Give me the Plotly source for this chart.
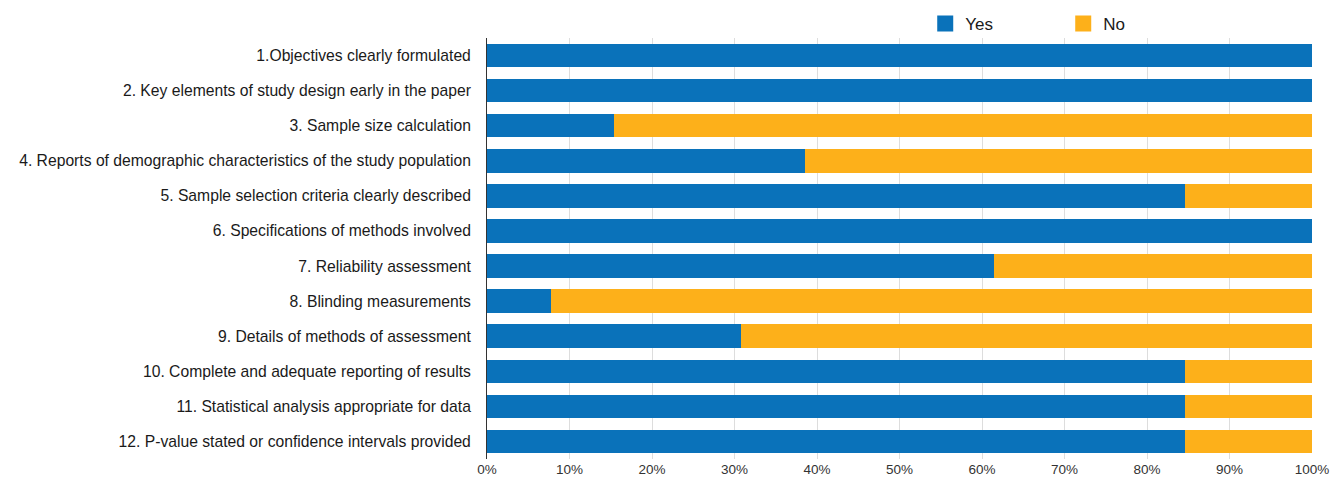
import plotly.graph_objects as go

categories = [
    "1.Objectives clearly formulated",
    "2. Key elements of study design early in the paper",
    "3. Sample size calculation",
    "4. Reports of demographic characteristics of the study population",
    "5. Sample selection criteria clearly described",
    "6. Specifications of methods involved",
    "7. Reliability assessment",
    "8. Blinding measurements",
    "9. Details of methods of assessment",
    "10. Complete and adequate reporting of results",
    "11. Statistical analysis appropriate for data",
    "12. P-value stated or confidence intervals provided",
]
yes_pct = [100, 100, 15.4, 38.5, 84.6, 100, 61.5, 7.7, 30.8, 84.6, 84.6, 84.6]
no_pct = [0, 0, 84.6, 61.5, 15.4, 0, 38.5, 92.3, 69.2, 15.4, 15.4, 15.4]
tick_vals = [0, 10, 20, 30, 40, 50, 60, 70, 80, 90, 100]
tick_text = ["0%", "10%", "20%", "30%", "40%", "50%", "60%", "70%", "80%", "90%", "100%"]

YES_COLOR = "#0a72ba"
NO_COLOR = "#fdb01a"

fig = go.Figure()
fig.add_trace(go.Bar(y=categories, x=yes_pct, name="Yes", orientation="h", showlegend=False,
                     marker=dict(color=YES_COLOR, line=dict(width=0))))
fig.add_trace(go.Bar(y=categories, x=no_pct, name="No", orientation="h", showlegend=False,
                     marker=dict(color=NO_COLOR, line=dict(width=0))))
# legend entries with larger square symbols
fig.add_trace(go.Scatter(x=[None], y=[None], mode="markers", name="Yes",
                         marker=dict(symbol="square", size=17, color=YES_COLOR)))
fig.add_trace(go.Scatter(x=[None], y=[None], mode="markers", name="No",
                         marker=dict(symbol="square", size=17, color=NO_COLOR)))

fig.update_layout(
    barmode="stack",
    bargap=0.33,
    width=1338, height=480,
    margin=dict(l=487, r=26, t=38, b=21, autoexpand=False),
    plot_bgcolor="white", paper_bgcolor="white",
    font=dict(family="Liberation Sans, Arial, sans-serif", color="#1a1a1a"),
    legend=dict(orientation="h", xref="container", yref="container",
                x=0.6915, y=0.95, xanchor="left", yanchor="middle",
                font=dict(size=17, color="#1a1a1a"), entrywidth=93, entrywidthmode="pixels",
                itemsizing="trace", traceorder="normal", bgcolor="rgba(0,0,0,0)"),
    xaxis=dict(range=[0, 100], tickvals=tick_vals, ticktext=tick_text,
               showgrid=True, gridcolor="#dddddd", gridwidth=1, zeroline=False,
               showline=False, tickfont=dict(size=13.5, color="#333333"), ticks="",
               automargin=False, fixedrange=True),
    yaxis=dict(autorange="reversed", showline=True, linecolor="#333333", linewidth=1,
               ticks="", tickfont=dict(size=15.7, color="#1a1a1a"), ticklabelstandoff=12,
               showgrid=False, automargin=False),
)

fig.write_html("out.html")
